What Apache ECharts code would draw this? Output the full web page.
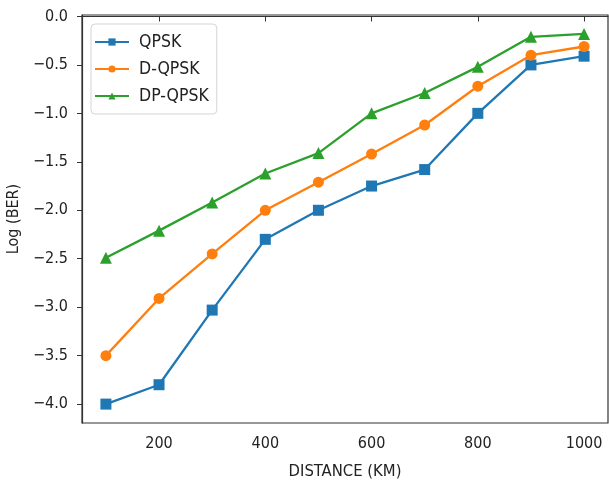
<!DOCTYPE html>
<html>
<head>
<meta charset="utf-8">
<script src="https://cdn.jsdelivr.net/npm/echarts@6/dist/echarts.min.js"></script>
<style>
html,body{margin:0;padding:0;background:#fff;}
#chart{width:609px;height:484px;}
</style>
</head>
<body>
<div id="chart"></div>
<script>
var distances = [100, 200, 300, 400, 500, 600, 700, 800, 900, 1000];
var qpsk   = [-4.0, -3.8, -3.03, -2.3, -2.0, -1.75, -1.58, -1.0, -0.5, -0.41];
var dqpsk  = [-3.5, -2.91, -2.45, -2.0, -1.71, -1.42, -1.12, -0.72, -0.4, -0.31];
var dpqpsk = [-2.49, -2.21, -1.92, -1.62, -1.41, -1.0, -0.79, -0.52, -0.21, -0.18];
var xTicks = [200, 400, 600, 800, 1000];
var yTicks = [-4.0, -3.5, -3.0, -2.5, -2.0, -1.5, -1.0, -0.5, 0.0];

function pairs(vals){ return distances.map(function(d,i){ return [d, vals[i]]; }); }
var FONT = '"DejaVu Sans Condensed", "DejaVu Sans"';
var chart = echarts.init(document.getElementById('chart'), null, {renderer:'canvas'});
chart.setOption({
  animation:false,
  backgroundColor:'#ffffff',
  textStyle:{fontFamily:FONT},
  grid:{left:82, top:15, width:526, height:408, show:true, borderColor:'#333', borderWidth:1.2,
        backgroundColor:'transparent', containLabel:false, outerBoundsMode:'none'},
  legend:{
    left:91, top:24, orient:'vertical',
    backgroundColor:'#fff', borderColor:'#d5d5d5', borderWidth:1, borderRadius:4,
    padding:[9,8,9,3], itemGap:9, itemWidth:34, itemHeight:9,
    textStyle:{fontFamily:FONT, fontSize:17.5, color:'#222', padding:[0,0,0,5]},
    data:['QPSK','D-QPSK','DP-QPSK']
  },
  xAxis:{
    type:'value', min:55, max:1045,
    name:'DISTANCE (KM)', nameLocation:'middle', nameGap:40,
    nameTextStyle:{fontFamily:FONT, fontSize:16.5, color:'#222'},
    axisLine:{show:true, lineStyle:{color:'#333', width:1.2}},
    axisTick:{show:true, inside:false, length:5, lineStyle:{color:'#333'}, customValues:xTicks},
    axisLabel:{fontFamily:FONT, fontSize:16, color:'#222', margin:13, customValues:xTicks,
      formatter:function(v){ return String(v); }},
    splitLine:{show:false}
  },
  yAxis:{
    type:'value', min:-4.195, max:0.015,
    name:'Log (BER)', nameLocation:'middle', nameGap:56, nameRotate:90,
    nameTextStyle:{fontFamily:FONT, fontSize:16, color:'#222'},
    axisLine:{show:true, lineStyle:{color:'#333', width:1.2}},
    axisTick:{show:true, inside:false, length:5, lineStyle:{color:'#333'}, customValues:yTicks},
    axisLabel:{fontFamily:FONT, fontSize:16, color:'#222', margin:14, customValues:yTicks,
      formatter:function(v){ return v.toFixed(1).replace('-', '\u2212'); }},
    splitLine:{show:false}
  },
  series:[
    {name:'QPSK', type:'line', data:pairs(qpsk), symbol:'rect', symbolSize:11,
     lineStyle:{color:'#1f77b4', width:2.3}, itemStyle:{color:'#1f77b4'}},
    {name:'D-QPSK', type:'line', data:pairs(dqpsk), symbol:'circle', symbolSize:11,
     lineStyle:{color:'#ff7f0e', width:2.3}, itemStyle:{color:'#ff7f0e'}},
    {name:'DP-QPSK', type:'line', data:pairs(dpqpsk), symbol:'triangle', symbolSize:12,
     lineStyle:{color:'#2ca02c', width:2.3}, itemStyle:{color:'#2ca02c'}}
  ]
});
</script>
</body>
</html>
